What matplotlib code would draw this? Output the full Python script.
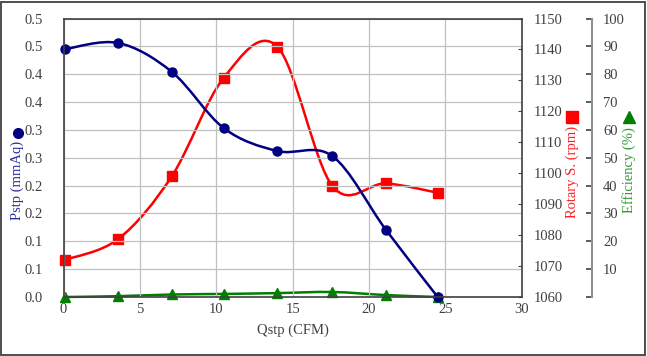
import numpy as np
import matplotlib
matplotlib.use("Agg")
import matplotlib.pyplot as plt
from matplotlib.path import Path
from matplotlib.patches import PathPatch, Rectangle
from matplotlib.lines import Line2D

plt.rcParams["font.family"] = ["Liberation Serif", "DejaVu Serif"]
plt.rcParams["font.size"] = 10

# data
qstp = [0.1, 3.6, 7.1, 10.5, 14.0, 17.6, 21.1, 24.5]
pstp = [0.445, 0.456, 0.404, 0.303, 0.262, 0.253, 0.121, 0.0]
rotary = [1072.0, 1078.8, 1099.1, 1130.9, 1140.9, 1095.9, 1096.7, 1093.7]
efficiency = [0.0, 0.3, 0.9, 1.1, 1.4, 1.8, 0.7, 0.0]

pstp_ticks = np.arange(0, 0.501, 0.05)
pstp_labels = ["0.0", "0.1", "0.1", "0.2", "0.2", "0.3", "0.3", "0.4", "0.4", "0.5", "0.5"]
rpm_ticks = np.arange(1060, 1151, 10)
eff_ticks = np.arange(0, 101, 10)
eff_labels = [""] + [str(v) for v in eff_ticks[1:]]

W, H = 647, 356
TXT = "#404040"


def smooth_path(xs, ys):
    # excel style smoothed line: cubic bezier through the points
    pts = np.column_stack([xs, ys])
    n = len(pts)
    verts = [pts[0]]
    codes = [Path.MOVETO]
    for i in range(n - 1):
        p0 = pts[i - 1] if i > 0 else pts[i]
        p1 = pts[i]
        p2 = pts[i + 1]
        p3 = pts[i + 2] if i + 2 < n else pts[i + 1]
        c1 = p1 + (p2 - p0) / 6.0
        c2 = p2 - (p3 - p1) / 6.0
        verts += [c1, c2, p2]
        codes += [Path.CURVE4] * 3
    return Path(verts, codes)


fig = plt.figure(figsize=(W / 100, H / 100), dpi=100)
ax = fig.add_axes([63.5 / W, 1 - 297 / H, 458.2 / W, 278.5 / H])
ax2 = ax.twinx()
ax3 = ax.twinx()

ax.set_xlim(0, 30)
ax.set_ylim(0, 0.5)
ax.set_xticks(range(0, 31, 5))
ax.set_yticks(pstp_ticks)
ax.set_yticklabels(pstp_labels)
ax.grid(True, color="#c0c0c0", lw=0.9)
ax.set_axisbelow(True)
ax.tick_params(axis="both", direction="in", length=0, colors=TXT, labelsize=10.5)
ax.tick_params(axis="y", pad=15)
ax.tick_params(axis="x", pad=4)
for s in ax.spines.values():
    s.set_color(TXT)
    s.set_linewidth(1.2)
ax.set_xlabel("Qstp (CFM)", color=TXT, fontsize=10.5, labelpad=6)

ax2.set_ylim(1060, 1150)
ax2.set_yticks(rpm_ticks)
ax2.tick_params(axis="y", direction="in", length=3, colors=TXT, labelsize=10.5, pad=9)
for s in ax2.spines.values():
    s.set_visible(False)

ax3.set_ylim(0, 100)
ax3.set_yticks(eff_ticks)
ax3.set_yticklabels(eff_labels)
ax3.spines["right"].set_position(("axes", (592 - 63.5) / 458.2))
for k, s in ax3.spines.items():
    s.set_visible(k == "right")
ax3.spines["right"].set_color("#909090")
ax3.spines["right"].set_linewidth(1.5)
ax3.tick_params(axis="y", direction="in", length=4, width=1.2, colors=TXT, labelsize=10.5, pad=8)

# series
ax3.add_patch(PathPatch(smooth_path(qstp, efficiency), fill=False, ec="#008000", lw=1.8, clip_on=False))
ax3.plot(qstp, efficiency, ls="none", marker="^", ms=7, color="#008000", clip_on=False)
ax2.add_patch(PathPatch(smooth_path(qstp, rotary), fill=False, ec="#ff0000", lw=1.8))
ax2.plot(qstp, rotary, ls="none", marker="s", ms=7, color="#ff0000", clip_on=False)
ax.add_patch(PathPatch(smooth_path(qstp, pstp), fill=False, ec="#000080", lw=1.8))
ax.plot(qstp, pstp, ls="none", marker="o", ms=6.5, color="#000080", clip_on=False)
ax.set_zorder(3)
ax.patch.set_visible(False)
ax2.set_zorder(2)
ax3.set_zorder(1)

# axis titles with series marker
fig.text(17 / W, 1 - 180 / H, "Pstp (mmAq)", rotation=90, ha="center", va="center",
         color="#2e2e99", fontsize=10.5)
fig.add_artist(Line2D([17.7 / W], [1 - 133 / H], marker="o", ms=7, color="#000080",
                      transform=fig.transFigure))
fig.text(572 / W, 1 - 172 / H, "Rotary S. (rpm)", rotation=90, ha="center", va="center",
         color="#ff2020", fontsize=10.5)
fig.add_artist(Line2D([572 / W], [1 - 117 / H], marker="s", ms=8, color="#ff0000",
                      transform=fig.transFigure))
fig.text(629 / W, 1 - 170 / H, "Efficiency (%)", rotation=90, ha="center", va="center",
         color="#339933", fontsize=10.5)
fig.add_artist(Line2D([629 / W], [1 - 117 / H], marker="^", ms=9, color="#008000",
                      transform=fig.transFigure))

fig.add_artist(Rectangle((1 / W, 1.5 / H), (W - 3) / W, (H - 3.5) / H, fill=False,
                         ec="#404040", lw=1.3, transform=fig.transFigure))

fig.savefig("out.png", dpi=100)
